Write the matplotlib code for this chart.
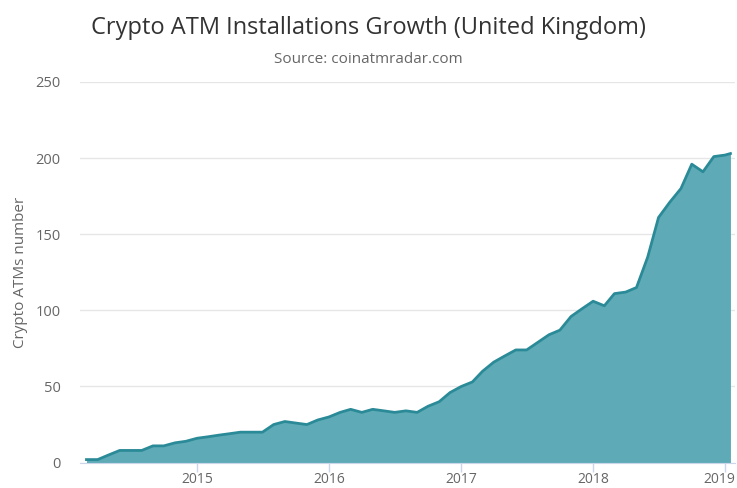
import matplotlib.pyplot as plt
import matplotlib.dates as mdates
import matplotlib.transforms as mtransforms
import pandas as pd

plt.rcParams['font.family'] = ['Open Sans', 'DejaVu Sans']

# monthly counts, Mar 2014 .. Jan 2019, plus a mid-January reading
months = pd.date_range('2014-03-01', '2019-01-01', freq='MS').tolist()
dates = months + [pd.Timestamp('2019-01-16')]
atms = [2, 2, 5, 8, 8, 8, 11, 11, 13, 14,
        16, 17, 18, 19, 20, 20, 20, 25, 27, 26, 25, 28,
        30, 33, 35, 33, 35, 34, 33, 34, 33, 37, 40, 46,
        50, 53, 60, 66, 70, 74, 74, 79, 84, 87, 96, 101,
        106, 103, 111, 112, 115, 135, 161, 171, 180, 196, 191, 201,
        202, 203]

title = 'Crypto ATM Installations Growth (United Kingdom)'
subtitle = 'Source: coinatmradar.com'
ylabel = 'Crypto ATMs number'

fig = plt.figure(figsize=(7.37, 4.88), dpi=100)
ax = fig.add_axes([0.1085, 0.052, 0.8885, 0.78])

ax.fill_between(dates, atms, 0, color='#5eabb7', lw=0)
ax.plot(dates, atms, color='#2b8a97', lw=2, solid_joinstyle='round')

ax.set_ylim(0, 250)
ax.set_yticks(range(0, 251, 50))
ax.set_xlim(pd.Timestamp('2014-02-11'), pd.Timestamp('2019-01-28'))
ax.xaxis.set_major_locator(mdates.YearLocator())
ax.xaxis.set_major_formatter(mdates.DateFormatter('%Y'))

ax.grid(axis='y', color='#e6e6e6', lw=1)
ax.set_axisbelow(True)
for s in ['top', 'right', 'left']:
    ax.spines[s].set_visible(False)
ax.spines['bottom'].set_color('#ccd6eb')
ax.tick_params(axis='x', colors='#ccd6eb', labelcolor='#666666', labelsize=10,
               length=6.5, width=1, pad=0.5)
ax.tick_params(axis='y', length=0, labelcolor='#666666', labelsize=10.5, pad=14)

ax.set_ylabel(ylabel, color='#666666', fontsize=11, labelpad=5)

fig.text(0.5, 0.943, title, ha='center', va='center', fontsize=17, color='#333333')
fig.text(0.5, 0.879, subtitle, ha='center', va='center', fontsize=11, color='#666666')

# keep the last year label inside the figure
fig.canvas.draw()
lab = ax.get_xticklabels()[-1]
lab.set_transform(lab.get_transform() + mtransforms.ScaledTranslation(-0.06, 0, fig.dpi_scale_trans))

fig.savefig('out.png', dpi=100)
